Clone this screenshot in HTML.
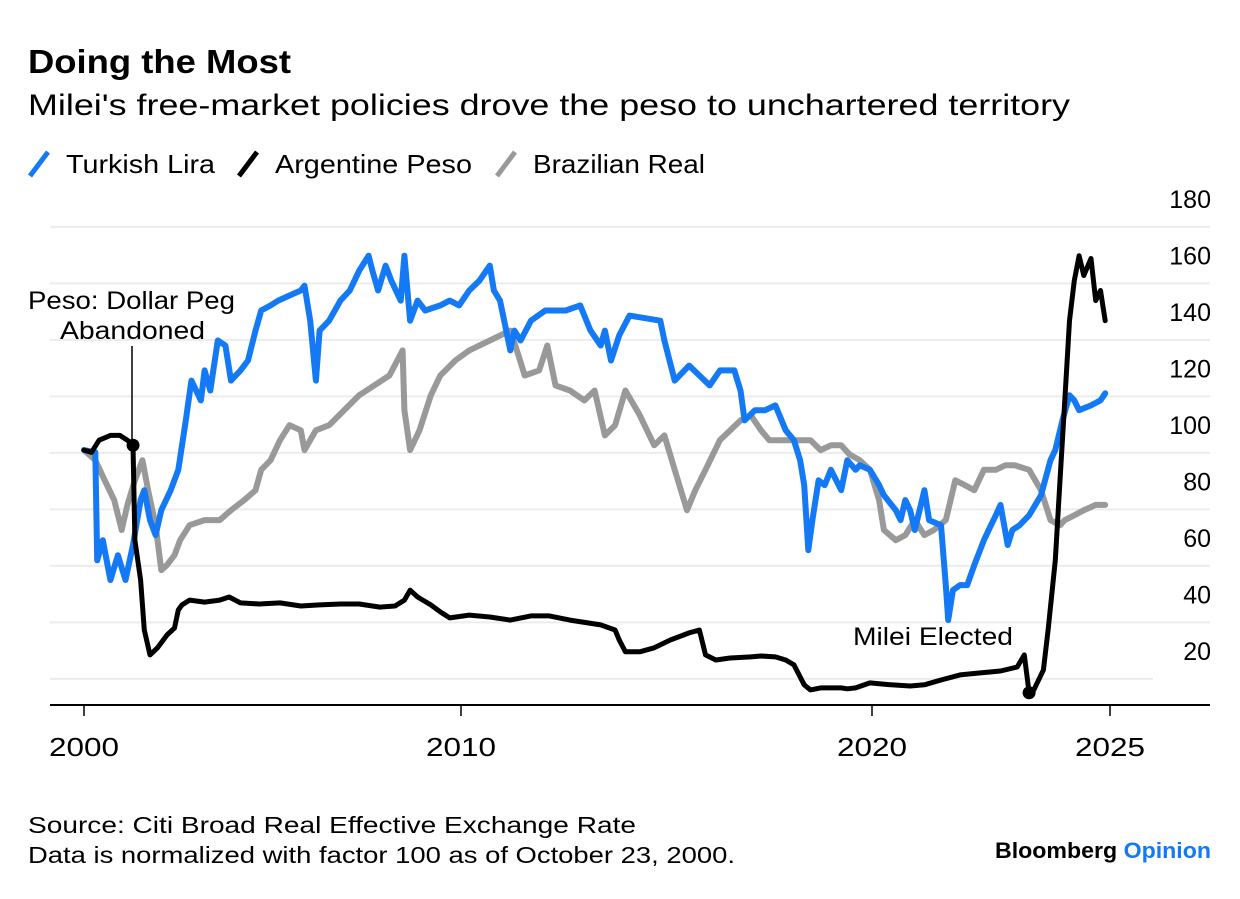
<!DOCTYPE html>
<html><head><meta charset="utf-8"><style>
body{margin:0;background:#fff;}
svg text{font-family:"Liberation Sans",sans-serif;}
</style></head><body>
<svg width="1240" height="894" viewBox="0 0 1240 894">
<text x="28" y="73" font-size="33" font-weight="bold" fill="#000" textLength="263" lengthAdjust="spacingAndGlyphs">Doing the Most</text>
<text x="28" y="115" font-size="30" fill="#000" textLength="1042" lengthAdjust="spacingAndGlyphs">Milei's free-market policies drove the peso to unchartered territory</text>
<g>
<g><line x1="30" y1="176" x2="48" y2="152" stroke="#1479f5" stroke-width="5"/><text x="66" y="173" font-size="26" textLength="149" lengthAdjust="spacingAndGlyphs">Turkish Lira</text></g>
<g><line x1="239" y1="176" x2="257" y2="152" stroke="#000" stroke-width="5"/><text x="275" y="173" font-size="26" textLength="197" lengthAdjust="spacingAndGlyphs">Argentine Peso</text></g>
<g><line x1="497" y1="176" x2="515" y2="152" stroke="#999" stroke-width="5"/><text x="533" y="173" font-size="26" textLength="172" lengthAdjust="spacingAndGlyphs">Brazilian Real</text></g>
</g>
<g id="grid"></g>
<g id="yticks"></g>
<g id="xaxis"></g>
<g id="series"></g>
<g>
<text x="28" y="309" font-size="25" textLength="207" lengthAdjust="spacingAndGlyphs">Peso: Dollar Peg</text>
<text x="60" y="339" font-size="25" textLength="145" lengthAdjust="spacingAndGlyphs">Abandoned</text>
<line x1="132" y1="346" x2="132" y2="445" stroke="#000" stroke-width="1.5"/>
</g>
<text x="853" y="645" font-size="25" textLength="160" lengthAdjust="spacingAndGlyphs">Milei Elected</text>
<g id="dots"></g>
<text x="28" y="833" font-size="23" textLength="608" lengthAdjust="spacingAndGlyphs">Source: Citi Broad Real Effective Exchange Rate</text>
<text x="28" y="863" font-size="23" textLength="707" lengthAdjust="spacingAndGlyphs">Data is normalized with factor 100 as of October 23, 2000.</text>
<text x="995" y="858" font-size="22" font-weight="bold" textLength="216" lengthAdjust="spacingAndGlyphs"><tspan fill="#000">Bloomberg </tspan><tspan fill="#1479f5">Opinion</tspan></text>
</svg>
<script>
const yTicks=[20,40,60,80,100,120,140,160,180];
const xTicks=[2000,2010,2020,2025];
const liraYears=[2000.0,2000.3,2000.35,2000.5,2000.7,2000.9,2001.1,2001.3,2001.5,2001.6,2001.75,2001.9,2002.05,2002.3,2002.5,2002.7,2002.85,2003.1,2003.2,2003.35,2003.55,2003.75,2003.9,2004.15,2004.35,2004.55,2004.7,2004.95,2005.15,2005.45,2005.75,2005.85,2006.0,2006.15,2006.25,2006.5,2006.8,2007.05,2007.3,2007.55,2007.65,2007.8,2008.0,2008.15,2008.4,2008.5,2008.65,2008.85,2009.05,2009.45,2009.7,2009.95,2010.2,2010.45,2010.7,2010.8,2010.95,2011.05,2011.2,2011.3,2011.45,2011.7,2012.05,2012.55,2012.9,2013.15,2013.4,2013.5,2013.65,2013.85,2014.1,2014.85,2014.95,2015.2,2015.55,2015.8,2016.05,2016.3,2016.65,2016.8,2016.9,2017.15,2017.4,2017.65,2017.9,2018.1,2018.25,2018.35,2018.45,2018.55,2018.7,2018.85,2019.0,2019.25,2019.4,2019.6,2019.7,2019.95,2020.15,2020.25,2020.5,2020.6,2020.7,2020.8,2020.9,2021.1,2021.2,2021.45,2021.55,2021.6,2021.7,2021.85,2022.0,2022.15,2022.35,2022.5,2022.6,2022.7,2022.85,2022.95,2023.1,2023.3,2023.55,2023.75,2023.85,2024.0,2024.15,2024.25,2024.35,2024.6,2024.8,2024.9];
const liraValues=[101,100.2,62,69.1,55,63.8,55,67.4,83.3,86.8,76.2,70.9,79.7,86.8,94,111.5,125.6,118.6,129.2,122.1,139.8,138,125.6,129.2,132.7,143.3,150.4,152.2,153.9,155.7,157.5,159.2,146.8,125.6,143.3,146.8,153.9,157.5,164.5,169.8,164.5,157.5,166.3,161,153.9,169.8,146.8,153.9,150.4,152.2,153.9,152.2,157.5,161,166.3,157.5,153.9,146.8,136.3,143.3,139.8,146.8,150.4,150.4,152.2,143.3,138,143.3,132.7,141.6,148.6,146.8,139.8,125.6,130.9,127.4,123.9,129.2,129.2,122.1,111.5,115.1,115.1,116.8,108,104.5,97.4,88.6,65.6,76.2,90.3,88.6,94,86.8,97.4,94,95.6,94,88.6,85,79.7,76.2,83.3,79.7,72.7,86.8,76.2,74.4,53.2,40.8,51.4,53.2,53.2,60.3,69.1,74.4,77.9,81.6,67.4,72.7,74.4,77.9,85,97.4,101,111.5,120.4,118.6,115.1,116.8,118.6,121.1];
const pesoYears=[2000.0,2000.2,2000.4,2000.7,2000.95,2001.15,2001.3,2001.35,2001.5,2001.6,2001.75,2001.95,2002.2,2002.4,2002.5,2002.6,2002.8,2003.2,2003.6,2003.85,2004.15,2004.65,2005.2,2005.75,2006.25,2006.8,2007.3,2007.85,2008.25,2008.5,2008.65,2008.85,2009.2,2009.45,2009.7,2010.2,2010.7,2011.2,2011.7,2012.15,2012.65,2013.4,2013.75,2013.85,2014.0,2014.35,2014.7,2015.1,2015.55,2015.8,2015.95,2016.2,2016.55,2017.05,2017.3,2017.65,2017.9,2018.1,2018.35,2018.5,2018.75,2019.25,2019.4,2019.6,2019.95,2020.4,2020.8,2021.1,2021.45,2021.85,2022.25,2022.7,2023.05,2023.2,2023.3,2023.4,2023.6,2023.7,2023.85,2023.95,2024.05,2024.15,2024.25,2024.35,2024.45,2024.6,2024.7,2024.8,2024.9];
const pesoValues=[101,100.2,104.5,106.2,106.2,104.5,102.7,69.1,55,37.3,28.5,31,35.5,38,44.4,46.2,47.9,47.2,47.9,49,46.9,46.5,46.9,45.8,46.2,46.5,46.5,45.4,45.8,47.9,51.4,49,46.2,43.7,41.6,42.6,41.9,40.8,42.3,42.3,40.8,39.1,37.3,33.8,29.6,29.6,31,33.8,36.3,37.3,28.5,26.7,27.4,27.8,28.1,27.8,26.7,25,17.9,16.1,16.8,16.8,16.5,16.8,18.6,17.9,17.5,17.9,19.6,21.4,22.1,22.8,24.2,28.5,15.1,16.1,23.2,37.3,62,90.3,118.6,146.8,161,169.8,162.8,168.8,153.9,157.5,146.8];
const realYears=[2000.0,2000.3,2000.55,2000.8,2001.0,2001.15,2001.35,2001.55,2001.7,2001.9,2002.05,2002.2,2002.4,2002.55,2002.8,2003.2,2003.6,2003.9,2004.25,2004.55,2004.7,2004.95,2005.2,2005.45,2005.75,2005.85,2006.15,2006.5,2006.9,2007.3,2007.7,2008.1,2008.45,2008.5,2008.65,2008.9,2009.2,2009.45,2009.85,2010.2,2010.7,2011.2,2011.4,2011.55,2011.9,2012.1,2012.3,2012.65,2013.0,2013.25,2013.5,2013.75,2014.0,2014.35,2014.7,2014.95,2015.2,2015.5,2015.7,2015.95,2016.3,2016.55,2016.8,2017.05,2017.3,2017.5,2018.0,2018.5,2018.75,2019.0,2019.25,2019.45,2019.7,2019.95,2020.15,2020.25,2020.5,2020.7,2020.9,2021.1,2021.3,2021.55,2021.75,2021.95,2022.15,2022.35,2022.6,2022.8,2023.0,2023.3,2023.55,2023.75,2023.95,2024.05,2024.25,2024.45,2024.7,2024.9];
const realValues=[101,97.4,90.3,83.3,72.7,81.6,90.3,97.4,86.8,74.4,58.5,60.3,63.8,69.1,74.4,76.2,76.2,79.7,83.3,86.8,94,97.4,104.5,109.8,108,101,108,109.8,115.1,120.4,123.9,127.4,136.3,115.1,101,108,120.4,127.4,132.7,136.3,139.8,143.3,134.5,127.4,129.2,138,123.9,122.1,118.6,122.1,106.2,109.8,122.1,113.3,102.7,106.2,94,79.7,86.8,94,104.5,108,111.5,113.3,108,104.5,104.5,104.5,101,102.7,102.7,99.5,97.4,94,83.3,72.7,69.1,70.9,76.2,70.9,72.7,76.2,90.3,88.6,86.8,94,94,95.6,95.6,94,86.8,76.2,74.4,76.2,77.9,79.7,81.6,81.6];

const NS='http://www.w3.org/2000/svg';
const xAnchorsYear=[2000,2010,2020,2025];
const xAnchorsPx=[84,461,872,1110];
function xScale(yr){
  let i=0;
  while(i<xAnchorsYear.length-2 && yr>xAnchorsYear[i+1]) i++;
  const y0=xAnchorsYear[i],y1=xAnchorsYear[i+1],p0=xAnchorsPx[i],p1=xAnchorsPx[i+1];
  return p0+(yr-y0)*(p1-p0)/(y1-y0);
}
function yScale(v){return 735.4-2.825*v;}
function mk(tag,attrs,parent){const e=document.createElementNS(NS,tag);for(const k in attrs)e.setAttribute(k,attrs[k]);parent.appendChild(e);return e;}

const grid=document.getElementById('grid');
const yt=document.getElementById('yticks');
yTicks.forEach(function(v){
  const y=yScale(v);
  const ln=mk('line',{x1:50,x2:v===20?1153:1210,y1:y,y2:y,stroke:'#ececec','stroke-width':2},grid);
  
  
  const t=mk('text',{x:1211,y:y-19,'font-size':25,'text-anchor':'end',fill:'#000'},yt);
  t.textContent=v;
  
  
});
const xa=document.getElementById('xaxis');
const axl=mk('line',{x1:50,x2:1210,y1:705,y2:705,stroke:'#000','stroke-width':2},xa);


xTicks.forEach(function(yr){
  const x=xScale(yr);
  const tk=mk('line',{x1:x,x2:x,y1:706,y2:716,stroke:'#000','stroke-width':1.5},xa);
  
  
  const t=mk('text',{x:x-35,y:756,'font-size':26,textLength:70,lengthAdjust:'spacingAndGlyphs'},xa);
  t.textContent=yr;
  
  
});
const sg=document.getElementById('series');
function drawLine(xs,vs,color,w,name){
  let d='';
  for(let i=0;i<xs.length;i++){d+=(i?'L':'M')+xScale(xs[i]).toFixed(1)+','+yScale(vs[i]).toFixed(1);}
  const p=mk('path',{d:d,fill:'none',stroke:color,'stroke-width':w,'stroke-linejoin':'round','stroke-linecap':'round'},sg);
  
  
}
drawLine(realYears,realValues,'#999999',6,'line-brazilian-real');
drawLine(liraYears,liraValues,'#1479f5',6,'line-turkish-lira');
drawLine(pesoYears,pesoValues,'#000000',5,'line-argentine-peso');
const dg=document.getElementById('dots');
const d1=mk('circle',{cx:xScale(pesoYears[6]),cy:yScale(pesoValues[6]),r:6.5,fill:'#000'},dg);


const d2=mk('circle',{cx:xScale(pesoYears[74]),cy:yScale(pesoValues[74]),r:6.5,fill:'#000'},dg);


</script>
</body></html>
